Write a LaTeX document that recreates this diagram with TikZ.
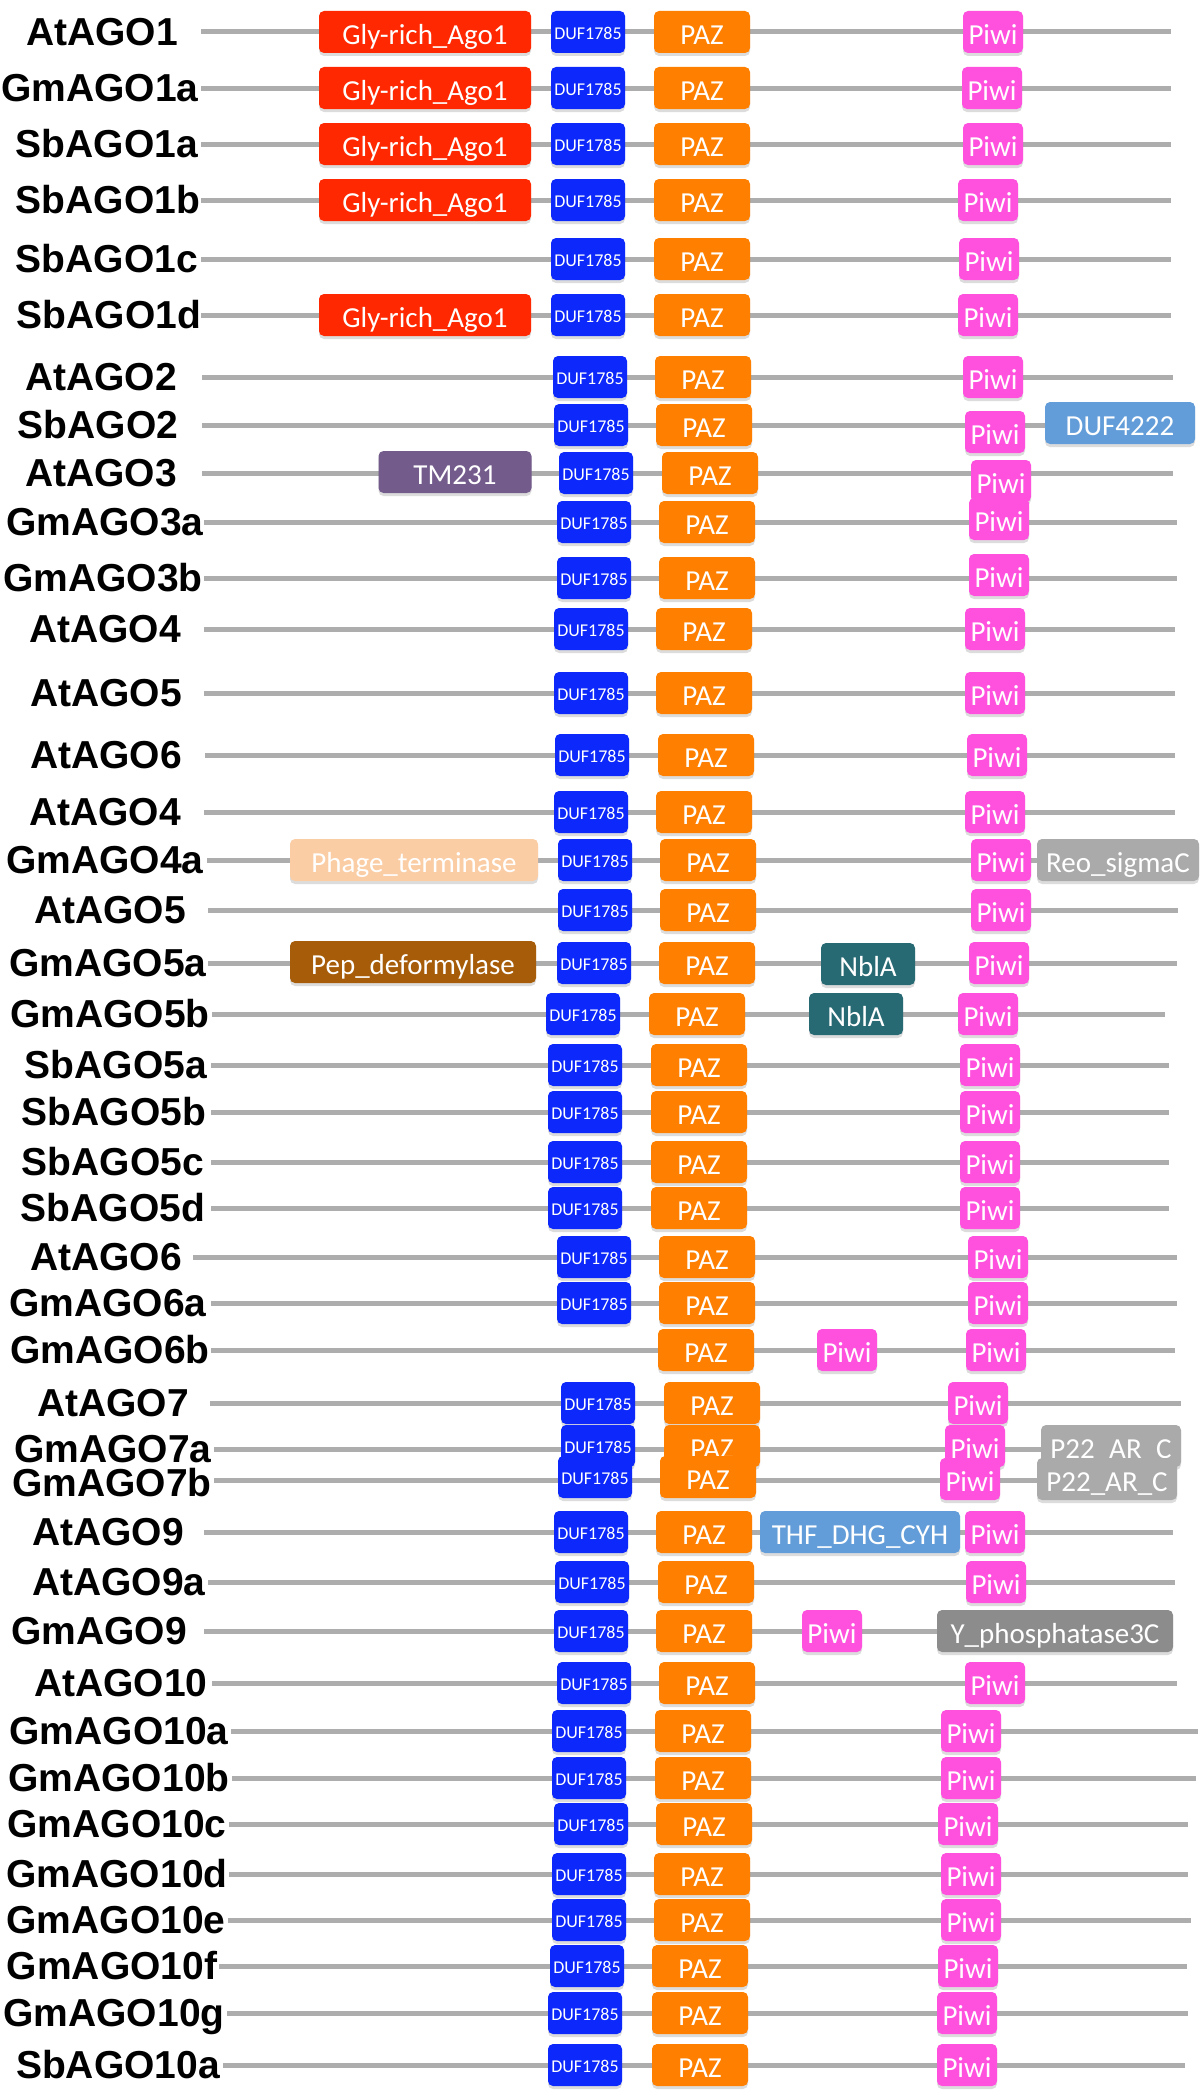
\documentclass[tikz,border=0pt]{standalone}
\usepackage{fontspec}
\usepackage{xcolor}
\usepackage{tikz}
\usetikzlibrary{shadows}
\newfontfamily\namefont{Liberation Sans}
\newfontfamily\domfont{Carlito}

\definecolor{glyred}{RGB}{255,40,0}
\definecolor{dufblue}{RGB}{12,40,250}
\definecolor{pazorange}{RGB}{255,128,0}
\definecolor{piwipink}{RGB}{255,80,222}
\definecolor{skyblue}{RGB}{98,157,217}
\definecolor{tmpurple}{RGB}{115,92,140}
\definecolor{peach}{RGB}{250,205,165}
\definecolor{reogray}{RGB}{170,170,170}
\definecolor{pepbrown}{RGB}{166,92,8}
\definecolor{nblteal}{RGB}{40,106,116}
\definecolor{darkgray}{RGB}{140,140,140}

\begin{document}
\begin{tikzpicture}[
  x=1pt, y=-1pt,
  lbl/.style={inner sep=0pt, font=\namefont\bfseries\fontsize{39}{39}\selectfont,
    text height=27.9pt, text depth=0pt},
  backbone/.style={draw=black!32, line width=5pt},
  dom/.style={rounded corners=5pt, minimum height=42pt, inner sep=0pt, text=white,
    font=\domfont\fontsize{29}{29}\selectfont, text height=24.4pt, text depth=0pt,
    drop shadow={shadow xshift=0pt, shadow yshift=-3pt, opacity=0.3, fill=black!45}},
  gly/.style={dom, fill=glyred, minimum width=212pt},
  duf/.style={dom, fill=dufblue, minimum width=74pt,
    font=\domfont\fontsize{18}{18}\selectfont, text height=15pt},
  paz/.style={dom, fill=pazorange, minimum width=96pt},
  piwi/.style={dom, fill=piwipink, minimum width=60pt},
  other/.style={dom, fill=#1}
]
\useasboundingbox (0,0) rectangle (1200,2093);

% AtAGO1
\coordinate (s1) at (201,32); \coordinate (e1) at (1171,32);
\draw[backbone] (s1) -- (e1);
\node[lbl] (n1) at (102,32) {AtAGO1};
\node[gly] (gly1) at (425,32) {Gly-rich\_Ago1};
\node[duf] (duf1) at (588,32) {DUF1785};
\node[paz] (paz1) at (702,32) {PAZ};
\node[piwi] (piwi1) at (993,32) {Piwi};

% GmAGO1a
\coordinate (s2) at (201,88); \coordinate (e2) at (1171,88);
\draw[backbone] (s2) -- (e2);
\node[lbl] (n2) at (100,88) {GmAGO1a};
\node[gly] (gly2) at (425,88) {Gly-rich\_Ago1};
\node[duf] (duf2) at (588,88) {DUF1785};
\node[paz] (paz2) at (702,88) {PAZ};
\node[piwi] (piwi2) at (992,88) {Piwi};

% SbAGO1a
\coordinate (s3) at (201,144); \coordinate (e3) at (1171,144);
\draw[backbone] (s3) -- (e3);
\node[lbl] (n3) at (107,144) {SbAGO1a};
\node[gly] (gly3) at (425,144) {Gly-rich\_Ago1};
\node[duf] (duf3) at (588,144) {DUF1785};
\node[paz] (paz3) at (702,144) {PAZ};
\node[piwi] (piwi3) at (993,144) {Piwi};

% SbAGO1b
\coordinate (s4) at (201,200); \coordinate (e4) at (1171,200);
\draw[backbone] (s4) -- (e4);
\node[lbl] (n4) at (108,200) {SbAGO1b};
\node[gly] (gly4) at (425,200) {Gly-rich\_Ago1};
\node[duf] (duf4) at (588,200) {DUF1785};
\node[paz] (paz4) at (702,200) {PAZ};
\node[piwi] (piwi4) at (988,200) {Piwi};

% SbAGO1c
\coordinate (s5) at (201,259); \coordinate (e5) at (1171,259);
\draw[backbone] (s5) -- (e5);
\node[lbl] (n5) at (107,259) {SbAGO1c};
\node[duf] (duf5) at (588,259) {DUF1785};
\node[paz] (paz5) at (702,259) {PAZ};
\node[piwi] (piwi5) at (989,259) {Piwi};

% SbAGO1d
\coordinate (s6) at (201,315); \coordinate (e6) at (1171,315);
\draw[backbone] (s6) -- (e6);
\node[lbl] (n6) at (109,315) {SbAGO1d};
\node[gly] (gly6) at (425,315) {Gly-rich\_Ago1};
\node[duf] (duf6) at (588,315) {DUF1785};
\node[paz] (paz6) at (702,315) {PAZ};
\node[piwi] (piwi6) at (988,315) {Piwi};

% AtAGO2
\coordinate (s7) at (202,377); \coordinate (e7) at (1173,377);
\draw[backbone] (s7) -- (e7);
\node[lbl] (n7) at (101,377) {AtAGO2};
\node[duf] (duf7) at (590,377) {DUF1785};
\node[paz] (paz7) at (703,377) {PAZ};
\node[piwi] (piwi7) at (993,377) {Piwi};

% SbAGO2
\coordinate (s8) at (202,425); \coordinate (e8) at (1173,425);
\draw[backbone] (s8) -- (e8);
\node[lbl] (n8) at (98,425) {SbAGO2};
\node[duf] (duf8) at (591,425) {DUF1785};
\node[paz] (paz8) at (704,425) {PAZ};
\node[piwi] (piwi8) at (995,432) {Piwi};
\node[other=skyblue, minimum width=150pt] (duff8) at (1120,423) {DUF4222};

% AtAGO3
\coordinate (s9) at (202,473); \coordinate (e9) at (1173,473);
\draw[backbone] (s9) -- (e9);
\node[lbl] (n9) at (101,473) {AtAGO3};
\node[other=tmpurple, minimum width=153pt] (tm9) at (455,472) {TM231};
\node[duf] (duf9) at (596,473) {DUF1785};
\node[paz] (paz9) at (710,473) {PAZ};
\node[piwi] (piwi9) at (1001,481) {Piwi};

% GmAGO3a
\coordinate (s10) at (204,522); \coordinate (e10) at (1177,522);
\draw[backbone] (s10) -- (e10);
\node[lbl] (n10) at (105,522) {GmAGO3a};
\node[duf] (duf10) at (594,522) {DUF1785};
\node[paz] (paz10) at (707,522) {PAZ};
\node[piwi] (piwi10) at (999,519) {Piwi};

% GmAGO3b
\coordinate (s11) at (204,578); \coordinate (e11) at (1177,578);
\draw[backbone] (s11) -- (e11);
\node[lbl] (n11) at (103,578) {GmAGO3b};
\node[duf] (duf11) at (594,578) {DUF1785};
\node[paz] (paz11) at (707,578) {PAZ};
\node[piwi] (piwi11) at (999,575) {Piwi};

% AtAGO4
\coordinate (s12) at (204,629); \coordinate (e12) at (1175,629);
\draw[backbone] (s12) -- (e12);
\node[lbl] (n12) at (105,629) {AtAGO4};
\node[duf] (duf12) at (591,629) {DUF1785};
\node[paz] (paz12) at (704,629) {PAZ};
\node[piwi] (piwi12) at (995,629) {Piwi};

% AtAGO5
\coordinate (s13) at (204,693); \coordinate (e13) at (1175,693);
\draw[backbone] (s13) -- (e13);
\node[lbl] (n13) at (106,693) {AtAGO5};
\node[duf] (duf13) at (591,693) {DUF1785};
\node[paz] (paz13) at (704,693) {PAZ};
\node[piwi] (piwi13) at (995,693) {Piwi};

% AtAGO6
\coordinate (s14) at (205,755); \coordinate (e14) at (1175,755);
\draw[backbone] (s14) -- (e14);
\node[lbl] (n14) at (106,755) {AtAGO6};
\node[duf] (duf14) at (592,755) {DUF1785};
\node[paz] (paz14) at (706,755) {PAZ};
\node[piwi] (piwi14) at (997,755) {Piwi};

% AtAGO4 (2)
\coordinate (s15) at (204,812); \coordinate (e15) at (1175,812);
\draw[backbone] (s15) -- (e15);
\node[lbl] (n15) at (105,812) {AtAGO4};
\node[duf] (duf15) at (591,812) {DUF1785};
\node[paz] (paz15) at (704,812) {PAZ};
\node[piwi] (piwi15) at (995,812) {Piwi};

% GmAGO4a
\coordinate (s16) at (207,860); \coordinate (e16) at (1177,860);
\draw[backbone] (s16) -- (e16);
\node[lbl] (n16) at (105,860) {GmAGO4a};
\node[other=peach, minimum width=248pt] (phage16) at (414,860) {Phage\_terminase};
\node[duf] (duf16) at (595,860) {DUF1785};
\node[paz] (paz16) at (708,860) {PAZ};
\node[piwi] (piwi16) at (1001,860) {Piwi};
\node[other=reogray, minimum width=162pt] (reo16) at (1118,860) {Reo\_sigmaC};

% AtAGO5 (2)
\coordinate (s17) at (208,910); \coordinate (e17) at (1178,910);
\draw[backbone] (s17) -- (e17);
\node[lbl] (n17) at (110,910) {AtAGO5};
\node[duf] (duf17) at (595,910) {DUF1785};
\node[paz] (paz17) at (708,910) {PAZ};
\node[piwi] (piwi17) at (1001,910) {Piwi};

% GmAGO5a
\coordinate (s18) at (208,963); \coordinate (e18) at (1177,963);
\draw[backbone] (s18) -- (e18);
\node[lbl] (n18) at (108,963) {GmAGO5a};
\node[other=pepbrown, minimum width=246pt] (pep18) at (413,962) {Pep\_deformylase};
\node[duf] (duf18) at (594,963) {DUF1785};
\node[paz] (paz18) at (707,963) {PAZ};
\node[other=nblteal, minimum width=94pt] (nbla18) at (868,964) {NblA};
\node[piwi] (piwi18) at (999,963) {Piwi};

% GmAGO5b
\coordinate (s19) at (212,1014); \coordinate (e19) at (1165,1014);
\draw[backbone] (s19) -- (e19);
\node[lbl] (n19) at (110,1014) {GmAGO5b};
\node[duf] (duf19) at (583,1014) {DUF1785};
\node[paz] (paz19) at (697,1014) {PAZ};
\node[other=nblteal, minimum width=94pt] (nbla19) at (856,1014) {NblA};
\node[piwi] (piwi19) at (988,1014) {Piwi};

% SbAGO5a
\coordinate (s20) at (211,1065); \coordinate (e20) at (1169,1065);
\draw[backbone] (s20) -- (e20);
\node[lbl] (n20) at (116,1065) {SbAGO5a};
\node[duf] (duf20) at (585,1065) {DUF1785};
\node[paz] (paz20) at (699,1065) {PAZ};
\node[piwi] (piwi20) at (990,1065) {Piwi};

% SbAGO5b
\coordinate (s21) at (211,1112); \coordinate (e21) at (1169,1112);
\draw[backbone] (s21) -- (e21);
\node[lbl] (n21) at (114,1112) {SbAGO5b};
\node[duf] (duf21) at (585,1112) {DUF1785};
\node[paz] (paz21) at (699,1112) {PAZ};
\node[piwi] (piwi21) at (990,1112) {Piwi};

% SbAGO5c
\coordinate (s22) at (211,1162); \coordinate (e22) at (1169,1162);
\draw[backbone] (s22) -- (e22);
\node[lbl] (n22) at (113,1162) {SbAGO5c};
\node[duf] (duf22) at (585,1162) {DUF1785};
\node[paz] (paz22) at (699,1162) {PAZ};
\node[piwi] (piwi22) at (990,1162) {Piwi};

% SbAGO5d
\coordinate (s23) at (211,1208); \coordinate (e23) at (1169,1208);
\draw[backbone] (s23) -- (e23);
\node[lbl] (n23) at (113,1208) {SbAGO5d};
\node[duf] (duf23) at (585,1208) {DUF1785};
\node[paz] (paz23) at (699,1208) {PAZ};
\node[piwi] (piwi23) at (990,1208) {Piwi};

% AtAGO6 (2)
\coordinate (s24) at (193,1257); \coordinate (e24) at (1177,1257);
\draw[backbone] (s24) -- (e24);
\node[lbl] (n24) at (106,1257) {AtAGO6};
\node[duf] (duf24) at (594,1257) {DUF1785};
\node[paz] (paz24) at (707,1257) {PAZ};
\node[piwi] (piwi24) at (998,1257) {Piwi};

% GmAGO6a
\coordinate (s25) at (211,1303); \coordinate (e25) at (1177,1303);
\draw[backbone] (s25) -- (e25);
\node[lbl] (n25) at (108,1303) {GmAGO6a};
\node[duf] (duf25) at (594,1303) {DUF1785};
\node[paz] (paz25) at (707,1303) {PAZ};
\node[piwi] (piwi25) at (998,1303) {Piwi};

% GmAGO6b
\coordinate (s26) at (211,1350); \coordinate (e26) at (1175,1350);
\draw[backbone] (s26) -- (e26);
\node[lbl] (n26) at (110,1350) {GmAGO6b};
\node[paz] (paz26) at (706,1350) {PAZ};
\node[piwi] (piwia26) at (847,1350) {Piwi};
\node[piwi] (piwi26) at (996,1350) {Piwi};

% AtAGO7
\coordinate (s27) at (210,1403); \coordinate (e27) at (1181,1403);
\draw[backbone] (s27) -- (e27);
\node[lbl] (n27) at (113,1403) {AtAGO7};
\node[duf] (duf27) at (598,1403) {DUF1785};
\node[paz] (paz27) at (712,1403) {PAZ};
\node[piwi] (piwi27) at (978,1403) {Piwi};

% GmAGO7a
\coordinate (s28) at (214,1449); \coordinate (e28) at (1181,1449);
\draw[backbone] (s28) -- (e28);
\node[lbl] (n28) at (113,1449) {GmAGO7a};
\node[duf] (duf28) at (598,1446) {DUF1785};
\node[paz] (paz28) at (712,1446) {PAZ};
\node[piwi] (piwi28) at (975,1446) {Piwi};
\node[other=reogray, minimum width=140pt] (p28) at (1111,1446) {P22\_AR\_C};

% GmAGO7b
\coordinate (s29) at (214,1480); \coordinate (e29) at (1177,1480);
\draw[backbone] (s29) -- (e29);
\node[lbl] (n29) at (112,1483) {GmAGO7b};
\node[duf] (duf29) at (595,1477) {DUF1785};
\node[paz] (paz29) at (708,1477) {PAZ};
\node[piwi] (piwi29) at (970,1479) {Piwi};
\node[other=reogray, minimum width=140pt] (p29) at (1107,1479) {P22\_AR\_C};

% AtAGO9
\coordinate (s30) at (204,1532); \coordinate (e30) at (1173,1532);
\draw[backbone] (s30) -- (e30);
\node[lbl] (n30) at (108,1532) {AtAGO9};
\node[duf] (duf30) at (591,1532) {DUF1785};
\node[paz] (paz30) at (704,1532) {PAZ};
\node[other=skyblue, minimum width=200pt] (thf30) at (860,1532) {THF\_DHG\_CYH};
\node[piwi] (piwi30) at (995,1532) {Piwi};

% AtAGO9a
\coordinate (s31) at (208,1582); \coordinate (e31) at (1175,1582);
\draw[backbone] (s31) -- (e31);
\node[lbl] (n31) at (119,1582) {AtAGO9a};
\node[duf] (duf31) at (592,1582) {DUF1785};
\node[paz] (paz31) at (706,1582) {PAZ};
\node[piwi] (piwi31) at (996,1582) {Piwi};

% GmAGO9
\coordinate (s32) at (204,1631); \coordinate (e32) at (1173,1631);
\draw[backbone] (s32) -- (e32);
\node[lbl] (n32) at (99,1631) {GmAGO9};
\node[duf] (duf32) at (591,1631) {DUF1785};
\node[paz] (paz32) at (704,1631) {PAZ};
\node[piwi] (piwi32) at (832,1631) {Piwi};
\node[other=darkgray, minimum width=236pt] (yph32) at (1055,1631) {Y\_phosphatase3C};

% AtAGO10
\coordinate (s33) at (212,1683); \coordinate (e33) at (1177,1683);
\draw[backbone] (s33) -- (e33);
\node[lbl] (n33) at (121,1683) {AtAGO10};
\node[duf] (duf33) at (594,1683) {DUF1785};
\node[paz] (paz33) at (707,1683) {PAZ};
\node[piwi] (piwi33) at (995,1683) {Piwi};

% GmAGO10a
\coordinate (s34) at (231,1731); \coordinate (e34) at (1198,1731);
\draw[backbone] (s34) -- (e34);
\node[lbl] (n34) at (119,1731) {GmAGO10a};
\node[duf] (duf34) at (589,1731) {DUF1785};
\node[paz] (paz34) at (703,1731) {PAZ};
\node[piwi] (piwi34) at (971,1731) {Piwi};

% GmAGO10b
\coordinate (s35) at (232,1778); \coordinate (e35) at (1196,1778);
\draw[backbone] (s35) -- (e35);
\node[lbl] (n35) at (119,1778) {GmAGO10b};
\node[duf] (duf35) at (589,1778) {DUF1785};
\node[paz] (paz35) at (703,1778) {PAZ};
\node[piwi] (piwi35) at (971,1778) {Piwi};

% GmAGO10c
\coordinate (s36) at (229,1824); \coordinate (e36) at (1188,1824);
\draw[backbone] (s36) -- (e36);
\node[lbl] (n36) at (117,1824) {GmAGO10c};
\node[duf] (duf36) at (591,1824) {DUF1785};
\node[paz] (paz36) at (704,1824) {PAZ};
\node[piwi] (piwi36) at (968,1824) {Piwi};

% GmAGO10d
\coordinate (s37) at (229,1874); \coordinate (e37) at (1188,1874);
\draw[backbone] (s37) -- (e37);
\node[lbl] (n37) at (117,1874) {GmAGO10d};
\node[duf] (duf37) at (589,1874) {DUF1785};
\node[paz] (paz37) at (702,1874) {PAZ};
\node[piwi] (piwi37) at (971,1874) {Piwi};

% GmAGO10e
\coordinate (s38) at (228,1920); \coordinate (e38) at (1191,1920);
\draw[backbone] (s38) -- (e38);
\node[lbl] (n38) at (116,1920) {GmAGO10e};
\node[duf] (duf38) at (589,1920) {DUF1785};
\node[paz] (paz38) at (702,1920) {PAZ};
\node[piwi] (piwi38) at (971,1920) {Piwi};

% GmAGO10f
\coordinate (s39) at (219,1966); \coordinate (e39) at (1187,1966);
\draw[backbone] (s39) -- (e39);
\node[lbl] (n39) at (112,1966) {GmAGO10f};
\node[duf] (duf39) at (587,1966) {DUF1785};
\node[paz] (paz39) at (700,1966) {PAZ};
\node[piwi] (piwi39) at (968,1966) {Piwi};

% GmAGO10g
\coordinate (s40) at (227,2013); \coordinate (e40) at (1188,2013);
\draw[backbone] (s40) -- (e40);
\node[lbl] (n40) at (114,2013) {GmAGO10g};
\node[duf] (duf40) at (585,2013) {DUF1785};
\node[paz] (paz40) at (700,2013) {PAZ};
\node[piwi] (piwi40) at (967,2013) {Piwi};

% SbAGO10a
\coordinate (s41) at (223,2065); \coordinate (e41) at (1185,2065);
\draw[backbone] (s41) -- (e41);
\node[lbl] (n41) at (118,2065) {SbAGO10a};
\node[duf] (duf41) at (585,2065) {DUF1785};
\node[paz] (paz41) at (700,2065) {PAZ};
\node[piwi] (piwi41) at (967,2065) {Piwi};
\end{tikzpicture}
\end{document}
